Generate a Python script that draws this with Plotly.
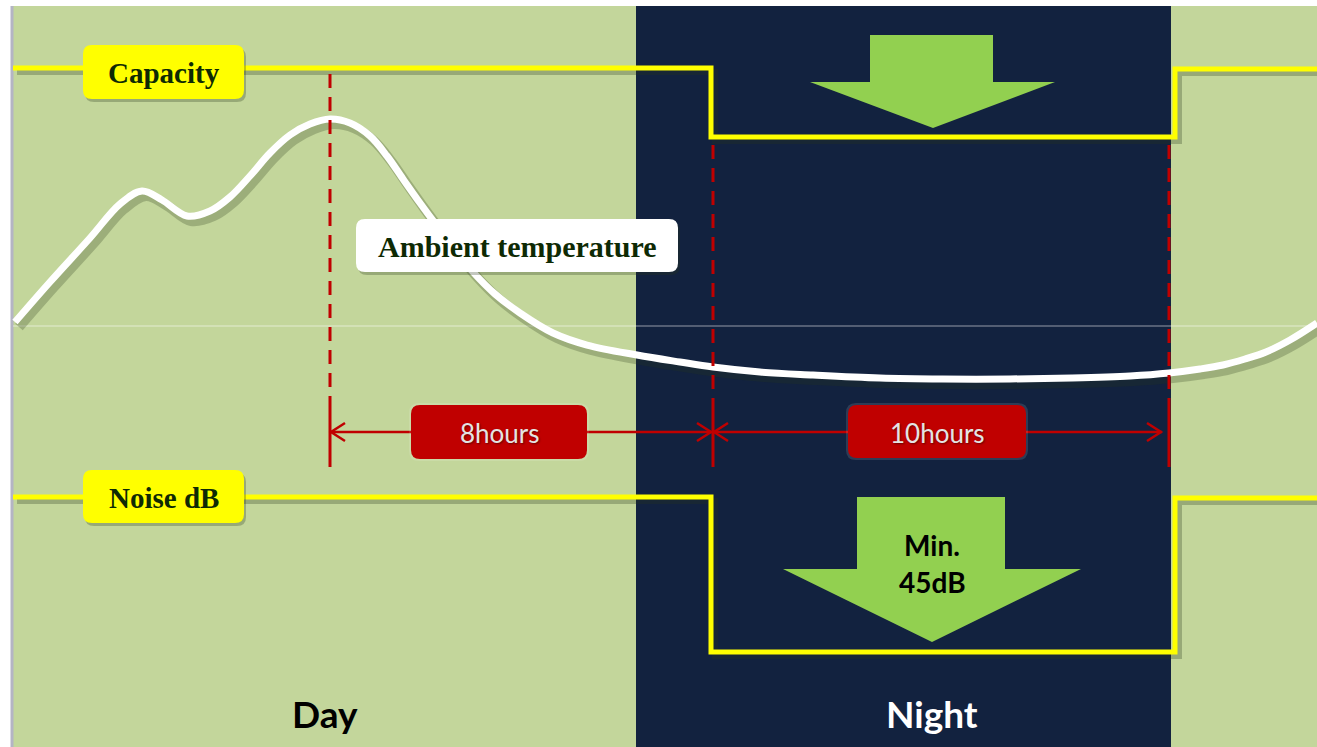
import plotly.graph_objects as go

# ---------------- data (schematic units: x = timeline position, y = level, downward) ----------------
W, H = 1317, 747

temp_x = [15, 50, 90, 120, 142, 162, 187, 210, 230, 250, 270, 290, 310, 330, 350, 370, 387, 403, 420, 437,
          455, 473, 495, 520, 553, 587, 637, 680, 713, 760, 813, 880, 942, 1010, 1072, 1130, 1169, 1200,
          1223, 1245, 1266, 1290, 1317]
temp_y = [322, 282, 238, 204, 191, 200, 216, 211, 197, 176, 153, 135, 124, 119, 123, 136, 156, 179, 203, 226,
          250, 272, 294, 313, 333, 345, 355, 362, 367, 372, 375, 378, 379, 379, 378, 376, 373, 369,
          365, 359, 352, 340, 323]

capacity_x = [13, 711, 711, 1175, 1175, 1317]
capacity_y = [68, 68, 137, 137, 69, 69]

noise_x = [13, 711, 711, 1175, 1175, 1317]
noise_y = [497, 497, 652, 652, 498, 498]

night_start, night_end = 636, 1171

marker_x = [330, 713, 1169]
marker_top = [74, 145, 145]

duration_labels = ["8hours", "10hours"]
duration_from = [330, 713]
duration_to = [712, 1162]
duration_box = [(411, 405, 587, 459), (848, 405, 1026, 458)]

period_labels = ["Day", "Night"]
period_x = [325, 932]

series_labels = ["Capacity", "Noise dB", "Ambient temperature"]
series_box = [(83, 45, 244, 99), (83, 470, 244, 523), (356, 219, 678, 272)]

noise_note = ["Min.", "45dB"]

# ---------------- styles ----------------
GREEN_BG = "#C3D69B"
NAVY = "#12223F"
YELLOW = "#FFFF00"
RED = "#C00000"
ARROW_GREEN = "#92D050"
DARK_TEXT = "#0E2A04"


def rrect(x0, y0, x1, y1, r):
    return (f"M {x0+r},{y0} L {x1-r},{y0} Q {x1},{y0} {x1},{y0+r} "
            f"L {x1},{y1-r} Q {x1},{y1} {x1-r},{y1} L {x0+r},{y1} Q {x0},{y1} {x0},{y1-r} "
            f"L {x0},{y0+r} Q {x0},{y0} {x0+r},{y0} Z")


fig = go.Figure()

shapes = [
    dict(type="rect", x0=13, x1=W, y0=6, y1=H, fillcolor=GREEN_BG, line_width=0, layer="below"),
    dict(type="rect", x0=night_start, x1=night_end, y0=6, y1=H, fillcolor=NAVY, line_width=0, layer="below"),
    dict(type="line", x0=12, x1=12, y0=6, y1=H, line=dict(color="#B4B4C4", width=3), layer="below"),
    dict(type="line", x0=13, x1=W, y0=326, y1=326, line=dict(color="rgba(255,255,255,0.55)", width=1), layer="below"),
    # big green arrows
    dict(type="path", path="M 870,35 L 993,35 L 993,82 L 1055,82 L 933,128 L 810,82 L 870,82 Z",
         fillcolor=ARROW_GREEN, line_width=0, layer="below"),
    dict(type="path", path="M 857,497 L 1005,497 L 1005,569 L 1081,569 L 932,642 L 783,569 L 857,569 Z",
         fillcolor=ARROW_GREEN, line_width=0, layer="below"),
]

SPLINE = dict(shape="spline", smoothing=1.0)

# ---- shadows of lines ----
fig.add_trace(go.Scatter(x=[v + 4 for v in temp_x], y=[v + 5 for v in temp_y], mode="lines",
                         line=dict(color="rgba(40,55,25,0.25)", width=10, **SPLINE),
                         hoverinfo="skip", showlegend=False))
for xs, ys in [(capacity_x, capacity_y), (noise_x, noise_y)]:
    fig.add_trace(go.Scatter(x=[v + 4 for v in xs], y=[v + 4 for v in ys], mode="lines",
                             line=dict(color="rgba(40,55,25,0.28)", width=6),
                             hoverinfo="skip", showlegend=False))

# ---- temperature curve ----
fig.add_trace(go.Scatter(x=temp_x, y=temp_y, mode="lines",
                         line=dict(color="white", width=7, **SPLINE),
                         hoverinfo="skip", showlegend=False))

# ---- capacity & noise ----
for xs, ys in [(capacity_x, capacity_y), (noise_x, noise_y)]:
    fig.add_trace(go.Scatter(x=xs, y=ys, mode="lines", line=dict(color=YELLOW, width=5),
                             hoverinfo="skip", showlegend=False))

# ---- red markers ----
for mx, mt in zip(marker_x, marker_top):
    fig.add_trace(go.Scatter(x=[mx, mx], y=[mt, 398], mode="lines",
                             line=dict(color=RED, width=3, dash="14px,9px"),
                             hoverinfo="skip", showlegend=False))
    fig.add_trace(go.Scatter(x=[mx, mx], y=[398, 467], mode="lines",
                             line=dict(color=RED, width=3), hoverinfo="skip", showlegend=False))

# ---- duration arrows ----
for a, b in zip(duration_from, duration_to):
    fig.add_trace(go.Scatter(x=[a, b], y=[432, 432], mode="lines", line=dict(color=RED, width=2.5),
                             hoverinfo="skip", showlegend=False))
    fig.add_trace(go.Scatter(x=[a + 15, a + 1, a + 15], y=[423, 432, 441], mode="lines",
                             line=dict(color=RED, width=2.5), hoverinfo="skip", showlegend=False))
    fig.add_trace(go.Scatter(x=[b - 15, b - 1, b - 15], y=[423, 432, 441], mode="lines",
                             line=dict(color=RED, width=2.5), hoverinfo="skip", showlegend=False))

annotations = []

# duration boxes
for lab, (x0, y0, x1, y1) in zip(duration_labels, duration_box):
    shapes.append(dict(type="path", path=rrect(x0 - 2, y0 - 2, x1 + 2, y1 + 2, 10),
                       fillcolor="rgba(255,255,255,0.12)", line_width=0, layer="above"))
    shapes.append(dict(type="path", path=rrect(x0, y0, x1, y1, 9), fillcolor=RED, line_width=0, layer="above"))
    annotations.append(dict(x=(x0 + x1) / 2, y=(y0 + y1) / 2 + 1, text=lab, showarrow=False,
                            font=dict(family="Lato", size=26, color="#E4E4E4",
                                      shadow="1px 1px 2px rgba(0,0,0,0.45)")))

# series label boxes
box_fill = [YELLOW, YELLOW, "white"]
box_font = [29, 29, 30]
for lab, (x0, y0, x1, y1), fc, fs in zip(series_labels, series_box, box_fill, box_font):
    shapes.append(dict(type="path", path=rrect(x0 + 2, y0 + 3, x1 + 2, y1 + 3, 9),
                       fillcolor="rgba(40,55,25,0.28)", line_width=0, layer="above"))
    shapes.append(dict(type="path", path=rrect(x0, y0, x1, y1, 9), fillcolor=fc, line_width=0, layer="above"))
    annotations.append(dict(x=(x0 + x1) / 2, y=(y0 + y1) / 2 + 1, text=f"<b>{lab}</b>", showarrow=False,
                            font=dict(family="Liberation Serif", size=fs, color=DARK_TEXT)))

# noise note inside arrow
for txt, yy in zip(noise_note, [545, 582]):
    annotations.append(dict(x=932, y=yy, text=f"<b>{txt}</b>", showarrow=False,
                            font=dict(family="Lato", size=28, color="black")))

# day/night labels
for lab, px, col in zip(period_labels, period_x, ["black", "white"]):
    annotations.append(dict(x=px, y=713, text=f"<b>{lab}</b>", showarrow=False,
                            font=dict(family="Lato", size=37, color=col)))

fig.update_layout(
    width=W, height=H,
    margin=dict(l=0, r=0, t=0, b=0),
    paper_bgcolor="white", plot_bgcolor="white",
    xaxis=dict(range=[0, W], visible=False, fixedrange=True),
    yaxis=dict(range=[H, 0], visible=False, fixedrange=True),
    shapes=shapes, annotations=annotations, showlegend=False,
)

fig.write_html("out.html", config={"displayModeBar": False},
               post_script="document.body.style.margin='0';document.body.style.overflow='hidden';")
